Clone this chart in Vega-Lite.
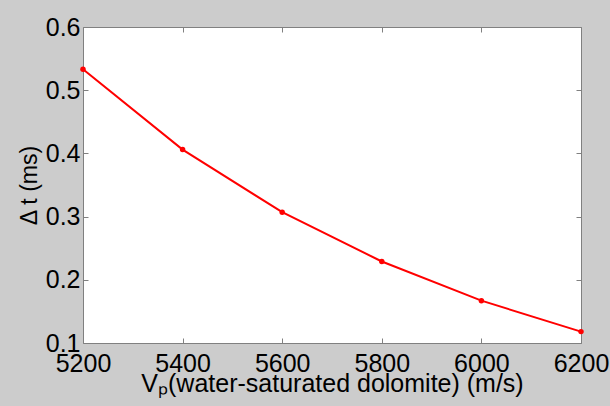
{
  "$schema": "https://vega.github.io/schema/vega-lite/v6.json",
  "width": 498,
  "height": 316,
  "autosize": {"type": "none"},
  "padding": {"left": 83, "top": 27, "right": 29, "bottom": 63},
  "background": "#cccccc",
  "config": {
    "view": {"fill": "white", "stroke": "#808080", "strokeWidth": 1},
    "font": "Liberation Sans"
  },
  "data": {
    "values": [
      {"vp": 5200, "dt": 0.533},
      {"vp": 5400, "dt": 0.406},
      {"vp": 5600, "dt": 0.307},
      {"vp": 5800, "dt": 0.229},
      {"vp": 6000, "dt": 0.167},
      {"vp": 6200, "dt": 0.118}
    ]
  },
  "layer": [
    {
      "mark": {
        "type": "line",
        "color": "#ff0000",
        "strokeWidth": 2,
        "point": {"filled": true, "size": 30, "color": "#ff0000"}
      },
      "encoding": {
        "x": {
          "field": "vp",
          "type": "quantitative",
          "scale": {"domain": [5200, 6200], "nice": false, "zero": false},
          "axis": {
            "orient": "bottom",
            "values": [5200, 5400, 5600, 5800, 6000, 6200],
            "format": "d",
            "domain": false,
            "grid": false,
            "tickSize": -5,
            "tickColor": "#808080",
            "labelFontSize": 25,
            "labelColor": "#000000",
            "labelPadding": 13,
            "labelFlush": false,
            "labelOverlap": false,
            "title": "Vₚ(water-saturated dolomite) (m/s)",
            "titleFontSize": 25,
            "titleFontWeight": "normal",
            "titleColor": "#000000",
            "titlePadding": -5
          }
        },
        "y": {
          "field": "dt",
          "type": "quantitative",
          "scale": {"domain": [0.1, 0.6], "nice": false, "zero": false},
          "axis": {
            "orient": "left",
            "values": [0.1, 0.2, 0.3, 0.4, 0.5, 0.6],
            "format": ".1f",
            "domain": false,
            "grid": false,
            "tickSize": -5,
            "tickColor": "#808080",
            "labelFontSize": 25,
            "labelColor": "#000000",
            "labelPadding": 8,
            "labelFlush": false,
            "labelOverlap": false,
            "title": "Δ t (ms)",
            "titleFontSize": 23,
            "titleFontWeight": "normal",
            "titleColor": "#000000",
            "titlePadding": 4
          }
        }
      }
    },
    {
      "mark": {"type": "point", "opacity": 0},
      "encoding": {
        "x": {
          "field": "vp",
          "type": "quantitative",
          "axis": {
            "orient": "top",
            "values": [5200, 5400, 5600, 5800, 6000, 6200],
            "domain": false,
            "grid": false,
            "labels": false,
            "tickSize": -5,
            "tickColor": "#808080",
            "title": null
          }
        },
        "y": {
          "field": "dt",
          "type": "quantitative",
          "axis": {
            "orient": "right",
            "values": [0.1, 0.2, 0.3, 0.4, 0.5, 0.6],
            "domain": false,
            "grid": false,
            "labels": false,
            "tickSize": -5,
            "tickColor": "#808080",
            "title": null
          }
        }
      }
    }
  ],
  "resolve": {"axis": {"x": "independent", "y": "independent"}}
}
